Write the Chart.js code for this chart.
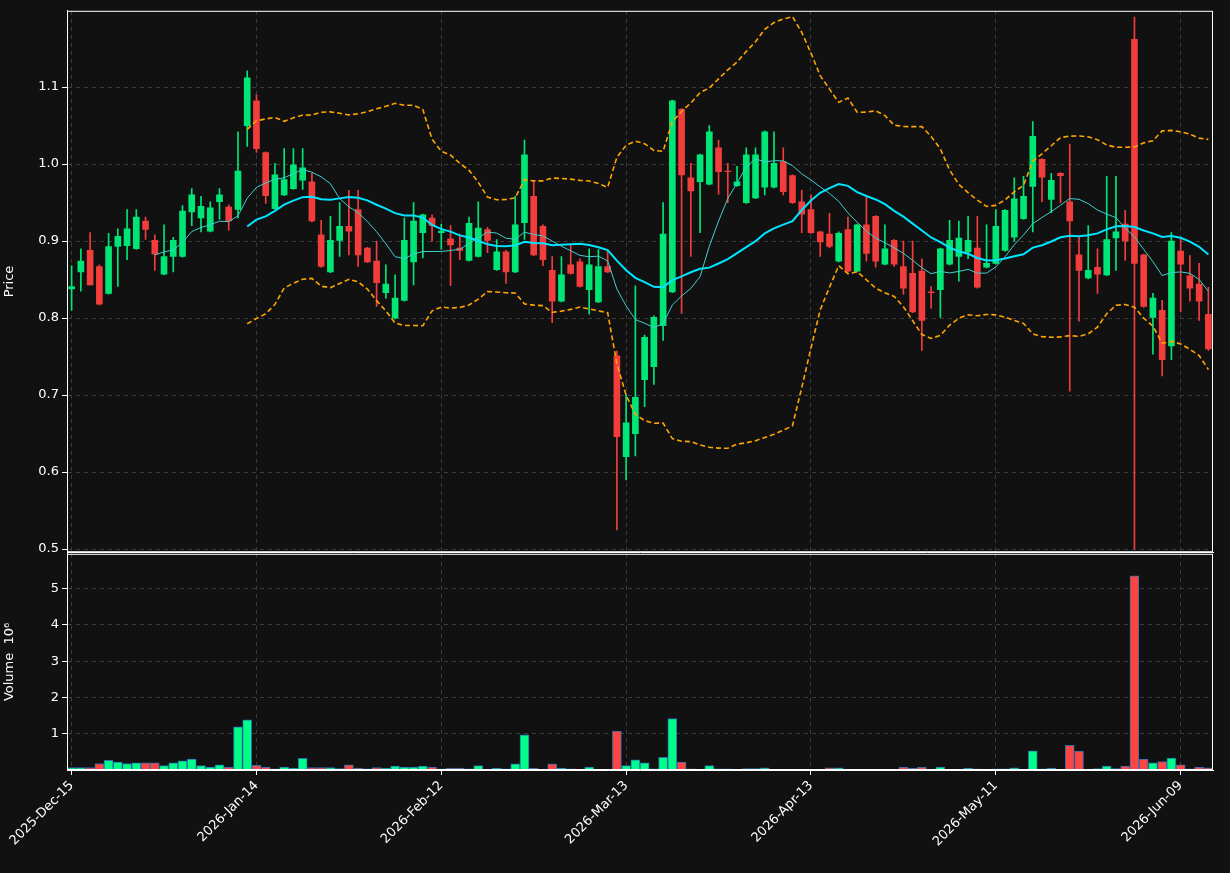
<!DOCTYPE html>
<html>
<head>
<meta charset="utf-8">
<script src="https://cdn.jsdelivr.net/npm/chart.js@4.4.1/dist/chart.umd.min.js"></script>
<style>
  body { margin: 0; background: #111111; }
  .pane { position: absolute; left: 0; width: 1230px; }
</style>
</head>
<body>
<div class="pane" style="top:0;height:563px"><canvas id="priceChart"></canvas></div>
<div class="pane" style="top:543px;height:330px"><canvas id="volChart"></canvas></div>
<script>
// daily bars, index 0 = 2025-Dec-15
const tickLabels = ['2025-Dec-15', '2026-Jan-14', '2026-Feb-12', '2026-Mar-13', '2026-Apr-13', '2026-May-11', '2026-Jun-09'];
const tickIdx = [0, 20, 40, 60, 80, 100, 120];

const opens = [0.838,0.860,0.888,0.867,0.832,0.893,0.894,0.890,0.926,0.901,0.857,0.880,0.880,0.938,0.930,0.913,0.951,0.944,0.941,1.050,
  1.082,1.015,0.942,0.960,0.968,0.979,0.977,0.908,0.860,0.901,0.919,0.941,0.891,0.874,0.833,0.800,0.823,0.873,0.911,0.930,
  0.911,0.903,0.891,0.875,0.880,0.915,0.863,0.886,0.860,0.924,0.958,0.919,0.862,0.822,0.869,0.873,0.837,0.821,0.867,0.751,
  0.620,0.650,0.720,0.737,0.790,0.834,1.071,0.982,0.977,0.974,1.021,0.991,0.972,0.950,0.956,0.970,0.970,1.003,0.985,0.951,
  0.941,0.912,0.909,0.874,0.915,0.861,0.921,0.932,0.870,0.901,0.867,0.858,0.861,0.834,0.837,0.870,0.880,0.886,0.891,0.866,
  0.871,0.888,0.905,0.929,0.971,1.006,0.954,0.988,0.951,0.882,0.852,0.866,0.856,0.904,0.922,1.162,0.882,0.801,0.810,0.764,
  0.887,0.855,0.844,0.805];
const closes = [0.841,0.874,0.843,0.818,0.893,0.906,0.916,0.931,0.915,0.883,0.880,0.901,0.939,0.960,0.945,0.943,0.960,0.926,0.991,1.112,
  1.020,0.959,0.986,0.980,0.999,0.995,0.926,0.867,0.901,0.919,0.913,0.882,0.873,0.846,0.844,0.826,0.901,0.926,0.934,0.920,
  0.913,0.895,0.888,0.923,0.917,0.901,0.886,0.860,0.921,1.012,0.882,0.876,0.822,0.856,0.858,0.841,0.869,0.867,0.860,0.646,
  0.664,0.697,0.775,0.801,0.909,1.082,0.986,0.965,1.012,1.042,0.990,0.990,0.977,1.012,1.012,1.042,1.001,0.964,0.950,0.935,
  0.911,0.899,0.893,0.910,0.861,0.921,0.884,0.874,0.890,0.870,0.839,0.808,0.797,0.833,0.890,0.901,0.904,0.901,0.840,0.871,
  0.919,0.940,0.955,0.958,1.036,0.983,0.979,0.985,0.926,0.862,0.862,0.857,0.902,0.912,0.900,0.871,0.815,0.826,0.746,0.900,
  0.870,0.839,0.822,0.760];
const highs = [0.868,0.890,0.911,0.869,0.910,0.916,0.941,0.941,0.931,0.908,0.921,0.905,0.946,0.968,0.958,0.951,0.968,0.947,1.042,1.121,
  1.090,1.016,1.001,1.020,1.020,1.020,0.988,0.927,0.932,0.950,0.966,0.966,0.892,0.900,0.869,0.856,0.930,0.950,0.935,0.934,
  0.922,0.920,0.909,0.931,0.951,0.918,0.902,0.888,0.958,1.031,0.978,0.921,0.880,0.880,0.894,0.877,0.890,0.889,0.887,0.757,
  0.701,0.842,0.778,0.803,0.950,1.083,1.072,1.001,1.013,1.050,1.031,1.001,0.997,1.021,1.021,1.043,1.042,1.021,0.986,0.966,
  0.960,0.913,0.936,0.912,0.931,0.922,0.957,0.933,0.921,0.902,0.900,0.900,0.877,0.841,0.891,0.927,0.926,0.932,0.932,0.921,
  0.941,0.941,0.982,0.984,1.055,1.007,0.988,0.989,1.026,0.905,0.920,0.890,0.984,0.984,0.940,1.191,0.883,0.832,0.823,0.911,
  0.904,0.881,0.871,0.840];
const lows = [0.810,0.835,0.843,0.817,0.831,0.841,0.876,0.889,0.902,0.862,0.856,0.860,0.879,0.920,0.912,0.912,0.928,0.914,0.930,1.023,
  1.015,0.949,0.941,0.959,0.967,0.967,0.925,0.866,0.859,0.880,0.882,0.867,0.872,0.815,0.826,0.799,0.822,0.843,0.878,0.900,
  0.889,0.842,0.876,0.874,0.879,0.885,0.862,0.845,0.859,0.902,0.881,0.868,0.794,0.821,0.857,0.840,0.805,0.820,0.859,0.525,
  0.590,0.621,0.685,0.714,0.771,0.833,0.806,0.880,0.911,0.973,0.961,0.950,0.971,0.949,0.955,0.960,0.969,0.960,0.949,0.911,
  0.910,0.880,0.891,0.873,0.860,0.860,0.874,0.866,0.869,0.867,0.831,0.807,0.758,0.813,0.801,0.869,0.848,0.877,0.839,0.865,
  0.870,0.887,0.900,0.928,0.912,0.951,0.937,0.950,0.705,0.796,0.851,0.832,0.855,0.862,0.875,0.500,0.814,0.753,0.725,0.746,
  0.808,0.822,0.797,0.758];
// volume in millions
const volumes = [0.07,0.07,0.07,0.18,0.27,0.22,0.18,0.20,0.20,0.20,0.12,0.20,0.25,0.30,0.12,0.08,0.14,0.08,1.19,1.38,
  0.13,0.08,0.03,0.08,0.05,0.32,0.07,0.07,0.07,0.04,0.14,0.05,0.03,0.07,0.05,0.11,0.08,0.08,0.11,0.08,
  0.03,0.05,0.05,0.03,0.12,0.01,0.05,0.03,0.17,0.97,0.05,0.01,0.17,0.05,0.03,0.01,0.08,0.01,0.02,1.07,
  0.12,0.28,0.20,0.03,0.35,1.42,0.22,0.03,0.01,0.12,0.03,0.03,0.01,0.04,0.04,0.06,0.01,0.01,0.01,0.01,
  0.01,0.01,0.06,0.06,0.01,0.01,0.01,0.01,0.02,0.02,0.08,0.05,0.08,0.01,0.08,0.01,0.01,0.05,0.03,0.01,
  0.03,0.03,0.06,0.01,0.53,0.03,0.05,0.01,0.68,0.52,0.02,0.04,0.11,0.04,0.11,5.35,0.30,0.20,0.23,0.33,
  0.14,0.03,0.08,0.06];

const GREEN = '#00e676', RED = '#f23d3d';
const VGREEN = '#00ff88', VRED = '#ff4444';
const idx = closes.map((_, i) => i);
const up = idx.map(i => closes[i] >= opens[i]);

function sma(n) {
  return idx.map(i => {
    if (i < n - 1) return null;
    let s = 0;
    for (let k = i - n + 1; k <= i; k++) s += closes[k];
    return s / n;
  });
}
function band(n, m, sign) {
  const mid = sma(n);
  return idx.map(i => {
    if (mid[i] === null) return null;
    let v = 0;
    for (let k = i - n + 1; k <= i; k++) v += (closes[k] - mid[i]) ** 2;
    return mid[i] + sign * m * Math.sqrt(v / (n - 1));
  });
}
const ma20 = sma(20), ma10 = sma(10);
const upper = band(20, 2, 1), lower = band(20, 2, -1);

Chart.defaults.font.family = 'DejaVu Sans';
Chart.defaults.font.size = 13;
Chart.defaults.color = '#ffffff';

const gridCfg = { color: '#3c3c3c', lineWidth: 1, tickColor: '#ffffff', tickLength: 5, offset: false };
function xScale(showLabels, h) {
  return {
    type: 'linear', min: -0.5, max: 123.5, offset: false,
    afterBuildTicks: s => { s.ticks = tickIdx.map(v => ({ value: v })); },
    afterFit: s => { s.height = h; },
    grid: { ...gridCfg, drawTicks: showLabels },
    border: { color: '#ffffff', dash: [4, 4] },
    ticks: {
      display: showLabels, maxRotation: 45, minRotation: 45, autoSkip: false,
      callback: v => tickLabels[tickIdx.indexOf(v)] || '',
      font: { size: 13 }
    }
  };
}
const pts = arr => idx.map(i => ({ x: i, y: arr[i] }));
const line = (arr, color, width, dash) => ({
  type: 'line', data: pts(arr), borderColor: color, borderWidth: width,
  borderDash: dash || [], pointRadius: 0, fill: false, tension: 0, spanGaps: false
});

const outline = {
  id: 'outline',
  afterDraw(c) {
    const a = c.chartArea, g = c.ctx;
    g.save(); g.strokeStyle = '#ffffff'; g.lineWidth = 1;
    g.strokeRect(a.left + 0.5, a.top + 0.5, a.width - 1, a.height - 1);
    g.restore();
  }
};

new Chart(document.getElementById('priceChart'), {
  data: {
    datasets: [
      { type: 'bar', data: idx.map(i => ({ x: i, y: [lows[i], highs[i]] })),
        backgroundColor: idx.map(i => up[i] ? GREEN : RED), barThickness: 1, grouped: false, order: 3 },
      { type: 'bar', data: idx.map(i => ({ x: i, y: [opens[i], closes[i]] })),
        backgroundColor: idx.map(i => up[i] ? GREEN : RED), barThickness: 6, grouped: false, order: 2 },
      { ...line(ma10, '#40d0d0', 1), order: 1 },
      { ...line(ma20, '#00e5ff', 2), order: 1 },
      { ...line(upper, '#ffa500', 1.6, [5, 3]), order: 1 },
      { ...line(lower, '#ffa500', 1.6, [5, 3]), order: 1 }
    ]
  },
  options: {
    responsive: true, maintainAspectRatio: false, animation: false,
    layout: { padding: { top: 10, right: 17, left: 0, bottom: 0 } },
    plugins: { legend: { display: false }, tooltip: { enabled: false } },
    scales: {
      x: xScale(false, 2),
      y: {
        min: 0.496, max: 1.199,
        afterBuildTicks: s => { s.ticks = [0.5, 0.6, 0.7, 0.8, 0.9, 1.0, 1.1].map(v => ({ value: v })); },
        afterFit: s => { s.width = 67; },
        grid: gridCfg, border: { color: '#ffffff', dash: [4, 4] },
        ticks: { callback: v => v.toFixed(1) },
        title: { display: true, text: 'Price', padding: 2 }
      }
    }
  },
  plugins: [outline]
});

new Chart(document.getElementById('volChart'), {
  type: 'bar',
  data: {
    datasets: [{
      data: idx.map(i => ({ x: i, y: volumes[i] })),
      backgroundColor: idx.map(i => up[i] ? VGREEN : VRED),
      borderColor: '#2b6fb0', borderWidth: 1, barThickness: 9
    }]
  },
  options: {
    responsive: true, maintainAspectRatio: false, animation: false,
    layout: { padding: { top: 0, right: 17, left: 0, bottom: 0 } },
    plugins: { legend: { display: false }, tooltip: { enabled: false } },
    scales: {
      x: xScale(true, 103),
      y: {
        min: 0, max: 5.96,
        afterBuildTicks: s => { s.ticks = [1, 2, 3, 4, 5].map(v => ({ value: v })); },
        afterFit: s => { s.width = 67; },
        grid: gridCfg, border: { color: '#ffffff', dash: [4, 4] },
        title: { display: true, text: 'Volume  10\u2076', padding: 2 }
      }
    }
  },
  plugins: [outline]
});
</script>
</body>
</html>
